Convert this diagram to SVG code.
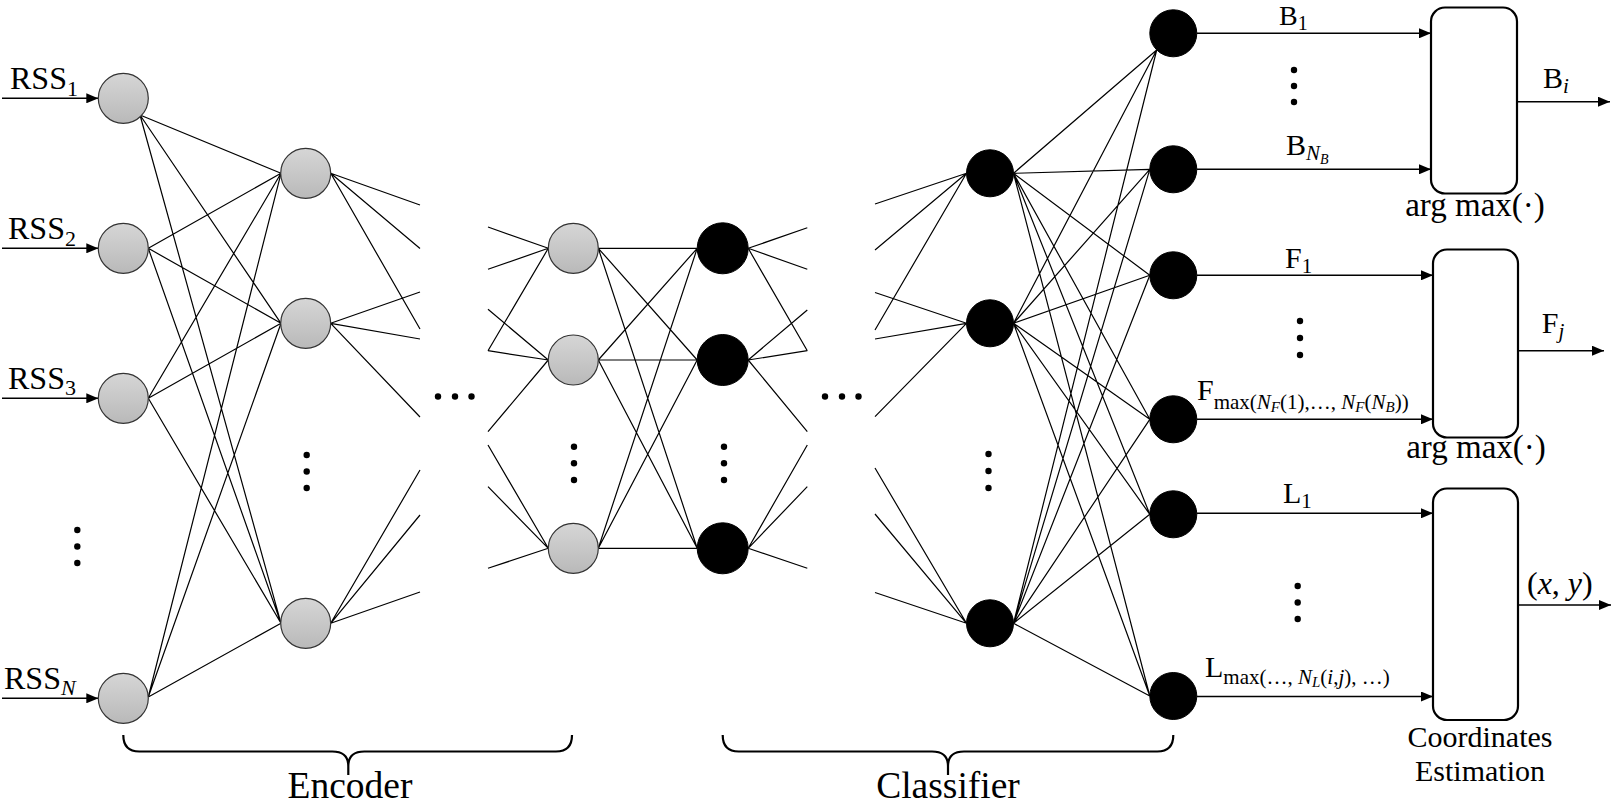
<svg xmlns="http://www.w3.org/2000/svg" width="1612" height="804" viewBox="0 0 1612 804">
<style>
.c{stroke:#000;stroke-width:1.2;fill:none}
.a{stroke:#000;stroke-width:1.4;fill:none;marker-end:url(#ah)}
.g{fill:url(#gg);stroke:#333;stroke-width:1.2}
.k{fill:#000;stroke:#000;stroke-width:1}
.bx{fill:#fff;stroke:#000;stroke-width:2.2}
.br{fill:none;stroke:#000;stroke-width:2.2}
.t{font-family:"Liberation Serif","Times New Roman",serif;fill:#000}
.d{fill:#000}
</style>
<defs>
<linearGradient id="gg" x1="0" y1="0" x2="0" y2="1">
<stop offset="0" stop-color="#d6d6d6"/>
<stop offset="1" stop-color="#b9b9b9"/>
</linearGradient>
<marker id="ah" markerUnits="userSpaceOnUse" markerWidth="12" markerHeight="10" refX="12" refY="5" orient="auto">
<path d="M0,0 L12,5 L0,10 z" fill="#000"/>
</marker>
</defs>

<g id="connectors">
<line class="a" x1="2" y1="98.3" x2="98.3" y2="98.3"/>
<line class="a" x1="2" y1="248.3" x2="98.3" y2="248.3"/>
<line class="a" x1="2" y1="398.3" x2="98.3" y2="398.3"/>
<line class="a" x1="2" y1="698.3" x2="98.3" y2="698.3"/>
<path class="c" d="M140,115 L281,173.3 M140,115 L281,323.3 M140,115 L281,623.3
M148.3,248.3 L281,173.3 M148.3,248.3 L281,323.3 M148.3,248.3 L281,623.3
M148.3,398.3 L281,173.3 M148.3,398.3 L281,323.3 M148.3,398.3 L281,623.3
M148.3,697 L281,173.3 M148.3,697 L281,323.3 M148.3,697 L281,623.3"/>
<path class="c" d="M330.7,173.3 L420,205 M330.7,173.3 L420,248.5 M330.7,173.3 L420,329
M330.7,323.3 L420,292 M330.7,323.3 L420,339 M330.7,323.3 L420,417
M330.7,623.3 L420,470 M330.7,623.3 L420,515 M330.7,623.3 L420,592"/>
<path class="c" d="M488,227 L548.3,248.3 M488,269.3 L548.3,248.3 M488,350.7 L548.3,248.3
M488,309.3 L548.3,360 M488,350.7 L548.3,360 M488,431.7 L548.3,360
M488,445 L548.3,548.3 M488,486.7 L548.3,548.3 M488,568.3 L548.3,548.3"/>
<path class="c" d="M598.3,248.3 L697.2,248.3 M598.3,248.3 L697.2,360 M598.3,248.3 L697.2,548.3
M598.3,360 L697.2,248.3 M598.3,360 L697.2,360 M598.3,360 L697.2,548.3
M598.3,548.3 L697.2,248.3 M598.3,548.3 L697.2,360 M598.3,548.3 L697.2,548.3"/>
<path class="c" d="M748.2,248.3 L807.3,227.7 M748.2,248.3 L807.3,269.3 M748.2,248.3 L807.3,350.7
M748.2,360 L807.3,310 M748.2,360 L807.3,350.7 M748.2,360 L807.3,431.7
M748.2,548.3 L807.3,445 M748.2,548.3 L807.3,486.7 M748.2,548.3 L807.3,568.3"/>
<path class="c" d="M875,204 L966.5,173.3 M875,250 L966.5,173.3 M875,330 L966.5,173.3
M875,292.5 L966.5,323.3 M875,339 L966.5,323.3 M875,416.7 L966.5,323.3
M875,468 L966.5,623.3 M875,514 L966.5,623.3 M875,592.5 L966.5,623.3"/>
<path class="c" d="M1013.5,173.3 L1156.7,50 M1013.5,173.3 L1149.8,169.3 M1013.5,173.3 L1149.8,275.3 M1013.5,173.3 L1149.8,419.3 M1013.5,173.3 L1149.8,514.3 M1013.5,173.3 L1149.8,696
M1013.5,323.3 L1156.7,50 M1013.5,323.3 L1149.8,169.3 M1013.5,323.3 L1149.8,275.3 M1013.5,323.3 L1149.8,419.3 M1013.5,323.3 L1149.8,514.3 M1013.5,323.3 L1149.8,696
M1013.5,623.3 L1156.7,50 M1013.5,623.3 L1149.8,169.3 M1013.5,623.3 L1149.8,275.3 M1013.5,623.3 L1149.8,419.3 M1013.5,623.3 L1149.8,514.3 M1013.5,623.3 L1149.8,696"/>
<line class="a" x1="1197" y1="33.3" x2="1431" y2="33.3"/>
<line class="a" x1="1197" y1="169.3" x2="1431" y2="169.3"/>
<line class="a" x1="1197" y1="275.3" x2="1433" y2="275.3"/>
<line class="a" x1="1197" y1="419.3" x2="1433" y2="419.3"/>
<line class="a" x1="1197" y1="513.3" x2="1433" y2="513.3"/>
<line class="a" x1="1197" y1="696.5" x2="1433" y2="696.5"/>
<line class="a" x1="1517" y1="101.7" x2="1610" y2="101.7"/>
<line class="a" x1="1518" y1="350.7" x2="1604" y2="350.7"/>
<line class="a" x1="1518" y1="605" x2="1611" y2="605"/>
</g>

<g id="layer1">
<circle class="g" cx="123.3" cy="98.3" r="25"/>
<circle class="g" cx="123.3" cy="248.3" r="25"/>
<circle class="g" cx="123.3" cy="398.3" r="25"/>
<circle class="g" cx="123.3" cy="698.3" r="25"/>
<circle class="d" cx="77.3" cy="530" r="3.2"/>
<circle class="d" cx="77.3" cy="546.5" r="3.2"/>
<circle class="d" cx="77.3" cy="563" r="3.2"/>
<text class="t" x="10" y="88.5" font-size="32">RSS<tspan font-size="22" dy="7">1</tspan></text>
<text class="t" x="8" y="238.5" font-size="32">RSS<tspan font-size="22" dy="7">2</tspan></text>
<text class="t" x="8" y="388.5" font-size="32">RSS<tspan font-size="22" dy="6">3</tspan></text>
<text class="t" x="4" y="688.5" font-size="32">RSS<tspan font-size="22" dy="6" font-style="italic">N</tspan></text>
</g>

<g id="layer2">
<circle class="g" cx="305.7" cy="173.3" r="25"/>
<circle class="g" cx="305.7" cy="323.3" r="25"/>
<circle class="g" cx="305.7" cy="623.3" r="25"/>
<circle class="d" cx="306.7" cy="455" r="3.2"/>
<circle class="d" cx="306.7" cy="471.5" r="3.2"/>
<circle class="d" cx="306.7" cy="488" r="3.2"/>
</g>

<g id="hdots1">
<circle class="d" cx="438" cy="396.5" r="3.2"/>
<circle class="d" cx="455" cy="396.5" r="3.2"/>
<circle class="d" cx="471.5" cy="396.5" r="3.2"/>
</g>

<g id="layer4">
<circle class="g" cx="573.3" cy="248.3" r="25"/>
<circle class="g" cx="573.3" cy="360" r="25"/>
<circle class="g" cx="573.3" cy="548.3" r="25"/>
<circle class="d" cx="574" cy="446.7" r="3.2"/>
<circle class="d" cx="574" cy="463.3" r="3.2"/>
<circle class="d" cx="574" cy="480" r="3.2"/>
</g>

<g id="layer5">
<circle class="k" cx="722.7" cy="248.3" r="25.5"/>
<circle class="k" cx="722.7" cy="360" r="25.5"/>
<circle class="k" cx="722.7" cy="548.3" r="25.5"/>
<circle class="d" cx="724" cy="446.7" r="3.2"/>
<circle class="d" cx="724" cy="463.3" r="3.2"/>
<circle class="d" cx="724" cy="480" r="3.2"/>
</g>

<g id="hdots2">
<circle class="d" cx="825" cy="396.5" r="3.2"/>
<circle class="d" cx="842" cy="396.5" r="3.2"/>
<circle class="d" cx="858.5" cy="396.5" r="3.2"/>
</g>

<g id="classifier-hidden">
<circle class="k" cx="990" cy="173.3" r="23.5"/>
<circle class="k" cx="990" cy="323.3" r="23.5"/>
<circle class="k" cx="990" cy="623.3" r="23.5"/>
<circle class="d" cx="988.5" cy="454" r="3.2"/>
<circle class="d" cx="988.5" cy="471" r="3.2"/>
<circle class="d" cx="988.5" cy="488" r="3.2"/>
</g>

<g id="outputs">
<circle class="k" cx="1173.3" cy="33.3" r="23.5"/>
<circle class="k" cx="1173.3" cy="169.3" r="23.5"/>
<circle class="k" cx="1173.3" cy="275.3" r="23.5"/>
<circle class="k" cx="1173.3" cy="419.3" r="23.5"/>
<circle class="k" cx="1173.3" cy="514.3" r="23.5"/>
<circle class="k" cx="1173.3" cy="696" r="23.5"/>
</g>

<g id="building-labels">
<text class="t" x="1279" y="25" font-size="28">B<tspan font-size="20" dy="5">1</tspan></text>
<circle class="d" cx="1294" cy="70" r="3.2"/>
<circle class="d" cx="1294" cy="86" r="3.2"/>
<circle class="d" cx="1294" cy="102" r="3.2"/>
<text class="t" x="1286" y="155" font-size="30">B<tspan font-size="21" dy="5" font-style="italic">N</tspan><tspan font-size="14" dy="4" font-style="italic">B</tspan></text>
</g>

<g id="box-building">
<rect class="bx" x="1431" y="7.5" width="86" height="186" rx="14"/>
<text class="t" x="1475" y="216" font-size="33" text-anchor="middle">arg max(·)</text>
<text class="t" x="1543" y="88" font-size="30">B<tspan font-size="21" dy="5" font-style="italic">i</tspan></text>
</g>

<g id="floor-labels">
<text class="t" x="1285" y="268" font-size="30">F<tspan font-size="21" dy="5">1</tspan></text>
<circle class="d" cx="1300" cy="321" r="3.2"/>
<circle class="d" cx="1300" cy="338" r="3.2"/>
<circle class="d" cx="1300" cy="355" r="3.2"/>
<text class="t" x="1197" y="400" font-size="30">F<tspan font-size="21" dy="9">max(</tspan><tspan font-style="italic" font-size="21">N</tspan><tspan font-style="italic" font-size="15" dy="3">F</tspan><tspan font-size="21" dy="-3">(1),…, </tspan><tspan font-style="italic" font-size="21">N</tspan><tspan font-style="italic" font-size="15" dy="3">F</tspan><tspan font-size="21" dy="-3">(</tspan><tspan font-style="italic" font-size="21">N</tspan><tspan font-style="italic" font-size="15" dy="3">B</tspan><tspan font-size="21" dy="-3">))</tspan></text>
</g>

<g id="box-floor">
<rect class="bx" x="1433" y="249.5" width="85" height="188" rx="14"/>
<text class="t" x="1476" y="458" font-size="33" text-anchor="middle">arg max(·)</text>
<text class="t" x="1541.7" y="333" font-size="30">F<tspan font-size="21" dy="5" font-style="italic">j</tspan></text>
</g>

<g id="location-labels">
<text class="t" x="1283" y="503" font-size="30">L<tspan font-size="21" dy="5">1</tspan></text>
<circle class="d" cx="1297.7" cy="586" r="3.2"/>
<circle class="d" cx="1297.7" cy="602.5" r="3.2"/>
<circle class="d" cx="1297.7" cy="619" r="3.2"/>
<text class="t" x="1205" y="677" font-size="30">L<tspan font-size="21" dy="7">max(…, </tspan><tspan font-style="italic" font-size="21">N</tspan><tspan font-style="italic" font-size="15" dy="3">L</tspan><tspan font-size="21" dy="-3">(</tspan><tspan font-style="italic" font-size="21">i</tspan><tspan font-size="21">,</tspan><tspan font-style="italic" font-size="21">j</tspan><tspan font-size="21">), …)</tspan></text>
</g>

<g id="box-coordinates">
<rect class="bx" x="1433" y="488.5" width="85" height="231.5" rx="14"/>
<text class="t" x="1480" y="747" font-size="30">
<tspan x="1480" text-anchor="middle">Coordinates</tspan>
</text>
<text class="t" x="1480" y="781" font-size="30" text-anchor="middle">Estimation</text>
<text class="t" x="1527" y="594" font-size="32">(<tspan font-style="italic">x</tspan>, <tspan font-style="italic">y</tspan>)</text>
</g>

<g id="encoder-brace">
<path class="br" d="M123.3,735 Q123.3,751.5 139.3,751.5 H332.3 Q348.3,751.5 348.3,766 V775 M348.3,766 Q348.3,751.5 364.3,751.5 H556 Q572,751.5 572,735"/>
<text class="t" x="350" y="798" font-size="37.5" text-anchor="middle">Encoder</text>
</g>

<g id="classifier-brace">
<path class="br" d="M722.7,735 Q722.7,751.5 738.7,751.5 H932 Q948,751.5 948,766 V775 M948,766 Q948,751.5 964,751.5 H1157.3 Q1173.3,751.5 1173.3,735"/>
<text class="t" x="948" y="798" font-size="37.5" text-anchor="middle">Classifier</text>
</g>
</svg>
